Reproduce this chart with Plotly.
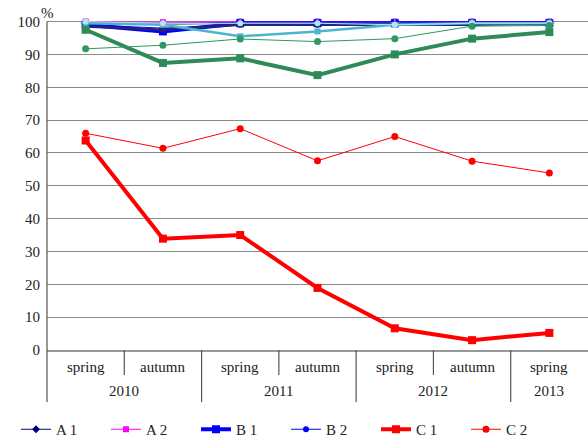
import plotly.graph_objects as go

seasons = ["spring", "autumn", "spring", "autumn", "spring", "autumn", "spring"]
years = ["2010", "2011", "2012", "2013"]
year_pos = [0.5, 2.5, 4.5, 6.0]
y_ticks = [0, 10, 20, 30, 40, 50, 60, 70, 80, 90, 100]

A1 = [99.6, 99.5, 99.8, 99.8, 99.8, 99.8, 99.8]
A2 = [100, 99.8, 100, 100, 100, 100, 100]
B1 = [99.0, 97.0, 99.5, 99.5, 99.5, 99.5, 99.5]
B2 = [99.0, 98.0, 99.0, 99.3, 99.5, 99.5, 99.5]
C1 = [63.8, 33.9, 35.0, 18.9, 6.6, 3.0, 5.2]
C2 = [66.0, 61.4, 67.4, 57.6, 65.0, 57.5, 53.9]
D1 = [99.5, 99.0, 99.5, 99.5, 99.5, 99.5, 99.5]
D2 = [98.5, 97.5, 99.0, 99.0, 99.0, 99.0, 99.5]
E1 = [99.5, 99.0, 95.5, 97.0, 99.0, 99.5, 99.5]
E2 = [100, 99.5, 99.5, 99.5, 99.0, 99.5, 99.5]
F1 = [97.5, 87.4, 88.8, 83.7, 90.0, 94.8, 96.8]
F2 = [91.7, 92.8, 94.7, 93.9, 94.8, 98.6, 98.8]

series = [
    ("A 1", A1, "#000080", 1, "diamond", 6),
    ("A 2", A2, "#FF00FF", 1, "square", 6),
    ("B 1", B1, "#0000FF", 4, "square", 8),
    ("B 2", B2, "#0000FF", 1, "circle", 6),
    ("C 1", C1, "#FF0000", 4, "square", 8),
    ("C 2", C2, "#FF0000", 1, "circle", 7),
    ("D 1", D1, "#5E9EA0", 1, "cross-thin", 7),
    ("D 2", D2, "#24247A", 2.5, "circle", 6),
    ("E 1", E1, "#4BB5D0", 2.5, "square", 6),
    ("E 2", E2, "#B7E4EE", 1, "circle", 6),
    ("F 1", F1, "#2E8B57", 4, "square", 8),
    ("F 2", F2, "#2E9960", 1, "circle", 7),
]

x = list(range(len(seasons)))
fig = go.Figure()
for name, vals, col, w, sym, ms in series:
    fig.add_trace(go.Scatter(
        x=x, y=vals, name=name, mode="lines+markers",
        line=dict(color=col, width=w),
        marker=dict(symbol=sym, size=ms, color=col,
                    line=dict(color=col, width=1.5 if sym == "cross-thin" else 0)),
    ))

W, H = 588, 445
top_px, zero_px, left_px = 15.4, 350, 47
plot_h = zero_px - top_px
ymax = 102
FS = 15
TXT = "#222"
FAM = "'Liberation Serif', 'DejaVu Serif', 'Times New Roman', serif"

def paper_y(px):
    return (zero_px - px) / plot_h

shapes = []
shapes.append(dict(type="line", xref="paper", yref="paper", x0=0, x1=0,
                   y0=paper_y(402), y1=100 / ymax, line=dict(color="#555", width=1.2)))
for b in [0.5, 1.5, 2.5, 3.5, 4.5, 5.5]:
    long = b in (1.5, 3.5, 5.5)
    shapes.append(dict(type="line", xref="x", yref="paper", x0=b, x1=b,
                       y0=paper_y(402 if long else 375), y1=0,
                       line=dict(color="#555", width=1.2)))

annotations = []
for i, s in enumerate(seasons):
    annotations.append(dict(x=i, y=paper_y(367), xref="x", yref="paper", text=s,
                            xanchor="center", yanchor="middle", showarrow=False,
                            font=dict(size=FS, color=TXT, family=FAM)))
for yr, p in zip(years, year_pos):
    annotations.append(dict(x=p, y=paper_y(391), xref="x", yref="paper", text=yr,
                            xanchor="center", yanchor="middle", showarrow=False,
                            font=dict(size=FS, color=TXT, family=FAM)))
annotations.append(dict(x=0, y=paper_y(13), xref="paper", yref="paper", text="%",
                        xanchor="center", yanchor="middle", showarrow=False,
                        font=dict(size=FS, color=TXT, family=FAM)))

fig.update_layout(
    width=W, height=H,
    margin=dict(l=left_px, r=0, t=top_px, b=H - zero_px, autoexpand=False),
    paper_bgcolor="white", plot_bgcolor="white",
    font=dict(family=FAM, size=FS, color=TXT),
    xaxis=dict(range=[-0.5, 6.5], showticklabels=False, showgrid=False,
               zeroline=False, showline=True, linecolor="#999", linewidth=1.5, ticks=""),
    yaxis=dict(range=[0, ymax], tickvals=y_ticks, showgrid=True, gridcolor="#8a8a8a",
               gridwidth=1, zeroline=False, showline=False, ticks="",
               ticklabelstandoff=6,
               tickfont=dict(size=FS, family=FAM, color=TXT)),
    shapes=shapes,
    annotations=annotations,
    legend=dict(orientation="h", xref="container", yref="container",
                x=16 / W, xanchor="left", y=(H - 413) / H, yanchor="top",
                entrywidth=45, entrywidthmode="pixels", tracegroupgap=0,
                font=dict(size=FS, family=FAM, color=TXT),
                bgcolor="rgba(0,0,0,0)"),
    showlegend=True,
)

fig.write_html("out.html", config={"displayModeBar": False},
               post_script="document.body.style.margin='0';document.body.style.overflow='hidden';")
